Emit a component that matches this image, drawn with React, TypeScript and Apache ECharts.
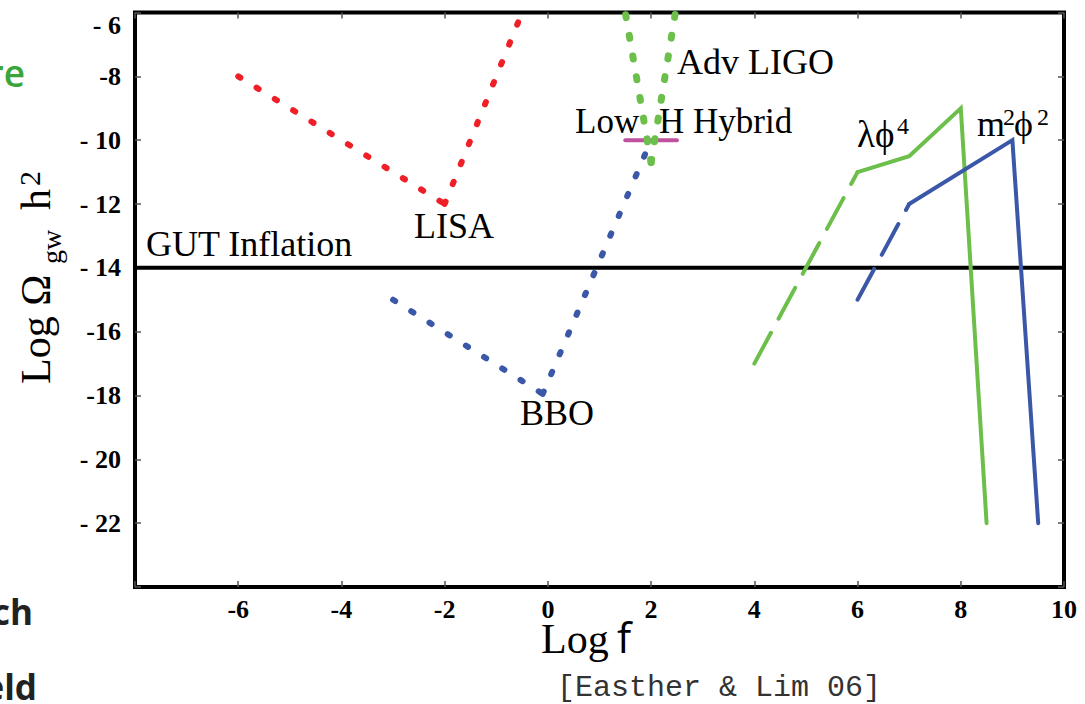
import React, { useEffect, useRef } from 'react';
import * as echarts from 'echarts';

// ---- Axis ranges and tick labels ----
const xRange = [-8, 10];
const yRange = [-24, -6];
const tickStep = 2;
const xTickLabels: Record<string, string> = {
  '-8': '', '-6': '-6', '-4': '-4', '-2': '-2', '0': '0', '2': '2', '4': '4', '6': '6', '8': '8', '10': '10',
};
const yTickLabels: Record<string, string> = {
  '-24': '', '-22': '- 22', '-20': '- 20', '-18': '-18', '-16': '-16', '-14': '- 14',
  '-12': '- 12', '-10': '- 10', '-8': '-8', '-6': '- 6',
};

// ---- Detector sensitivity curves (log f, log Omega_gw h^2) ----
const lisaLeft = [[-6, -8], [-2, -12]];
const lisaRight = [[-2, -12], [-0.5, -6]];
const bboLeft = [[-3, -15], [-0.1, -17.95]];
const bboRight = [[-0.1, -17.95], [2, -10]];
const ligoLeft = [[2, -10.7], [1.5, -6]];
const ligoRight = [[2, -10.7], [2.47, -6]];
const lowHHybrid = [[1.5, -10], [2.5, -10]];

// ---- GUT inflation level ----
const gutLevel = [[-8, -14], [10, -14]];

// ---- Inflationary model spectra ----
const lambdaPhi4Dashed = [[4, -17], [6, -11]];
const lambdaPhi4Solid = [[6, -11], [7, -10.5], [8, -9], [8.5, -22]];
const m2Phi2Dashed = [[6, -15], [7, -12]];
const m2Phi2Solid = [[7, -12], [9, -10], [9.5, -22]];

const RED = '#ee1f26';
const BLUE = '#3b57a7';
const GREEN = '#6cbf4a';
const MAGENTA = '#c0519f';

const SERIF = '"Liberation Serif", "Times New Roman", serif';
const SANS = '"Open Sans", "Liberation Sans", sans-serif';
const MONO = '"Liberation Mono", "DejaVu Sans Mono", monospace';

function line(name: string, data: number[][], color: string, width: number, type: any, z = 3) {
  return {
    name,
    type: 'line',
    data,
    symbol: 'none',
    z,
    lineStyle: { color, width, type, cap: 'round', join: 'miter' },
  };
}

// text helper: positions a text by its left/centre x and its baseline
function label(text: string, x: number, baseline: number, fontSize: number, opts: any = {}) {
  const family = opts.fontFamily || SERIF;
  const k = family === MONO ? 0.2665 : family === SANS ? 0.388 : 0.3375;
  return {
    type: 'text',
    x,
    y: baseline - k * fontSize,
    silent: true,
    z: 10,
    style: {
      text,
      fontSize,
      fontFamily: family,
      fontWeight: opts.fontWeight || 'normal',
      fill: opts.fill || '#000',
      align: opts.align || 'left',
      verticalAlign: 'middle',
    },
  };
}

export default function App() {
  const ref = useRef<HTMLDivElement>(null);

  useEffect(() => {
    if (!ref.current) return;
    const chart = echarts.init(ref.current, null, { renderer: 'svg' });

    const tickStyle = { inside: true, length: 6, lineStyle: { color: '#555', width: 1.5 } };
    const hiddenLine = { show: false, onZero: false };

    const option: any = {
      animation: false,
      backgroundColor: '#fff',
      grid: {
        left: 135,
        right: 21,
        top: 12.5,
        bottom: 117,
        show: true,
        borderColor: '#000',
        borderWidth: 4,
        backgroundColor: 'transparent',
      },
      xAxis: [
        {
          type: 'value', min: xRange[0], max: xRange[1], interval: tickStep, position: 'bottom',
          axisLine: hiddenLine, axisTick: tickStyle, splitLine: { show: false },
          axisLabel: {
            fontFamily: SERIF, fontWeight: 'bold', fontSize: 26, color: '#000', margin: 9,
            formatter: (v: number) => xTickLabels[String(v)] ?? String(v),
          },
        },
        {
          type: 'value', min: xRange[0], max: xRange[1], interval: tickStep, position: 'top',
          axisLine: hiddenLine, axisTick: tickStyle, splitLine: { show: false },
          axisLabel: { show: false },
        },
      ],
      yAxis: [
        {
          type: 'value', min: yRange[0], max: yRange[1], interval: tickStep, position: 'left',
          axisLine: hiddenLine, axisTick: tickStyle, splitLine: { show: false },
          axisLabel: {
            fontFamily: SERIF, fontWeight: 'bold', fontSize: 26, color: '#000', margin: 14,
            verticalAlignMaxLabel: 'top',
            formatter: (v: number) => yTickLabels[String(v)] ?? String(v),
          },
        },
        {
          type: 'value', min: yRange[0], max: yRange[1], interval: tickStep, position: 'right',
          axisLine: hiddenLine, axisTick: tickStyle, splitLine: { show: false },
          axisLabel: { show: false },
        },
      ],
      series: [
        line('GUT Inflation', gutLevel, '#000', 4, 'solid', 2),
        line('Low H Hybrid', lowHHybrid, MAGENTA, 4, 'solid', 3),
        line('LISA', lisaLeft, RED, 6, [2.5, 19], 4),
        line('LISA', lisaRight, RED, 6, [2.5, 19], 4),
        line('BBO', bboLeft, BLUE, 6, [2.5, 19], 4),
        line('BBO', bboRight, BLUE, 6, [2.5, 19], 4),
        line('Adv LIGO', ligoLeft, GREEN, 7, [3, 18], 5),
        line('Adv LIGO', ligoRight, GREEN, 7, [3, 18], 5),
        line('λϕ4', lambdaPhi4Dashed, GREEN, 4, [35, 16], 4),
        line('λϕ4', lambdaPhi4Solid, GREEN, 4, 'solid', 4),
        line('m2ϕ2', m2Phi2Dashed, BLUE, 4, [35, 16], 4),
        line('m2ϕ2', m2Phi2Solid, BLUE, 4, 'solid', 4),
      ],
      graphic: [
        // curve annotations
        label('GUT Inflation', 146, 256, 36),
        label('LISA', 454, 238, 36, { align: 'center' }),
        label('BBO', 557, 425, 36, { align: 'center' }),
        label('Adv LIGO', 677, 74, 36),
        label('Low', 575, 133, 35),
        label('H Hybrid', 659, 133, 35),
        label('λϕ', 857, 147, 37),
        label('4', 897, 134, 24),
        label('m', 977, 136, 36),
        label('2', 1003, 125, 24),
        label('ϕ', 1014, 136, 36),
        label('2', 1037, 125, 24),
        // x-axis title
        label('Log', 541, 653, 42),
        label('f', 617, 653, 42, { fontFamily: SANS }),
        // y-axis title, rotated to read upward
        {
          type: 'group',
          x: 50,
          y: 384,
          rotation: Math.PI / 2,
          children: [
            label('Log Ω', 0, 0, 42),
            label('gw', 120, 11, 28),
            label('h', 174, 0, 42),
            label('2', 198, -10, 30),
          ],
        },
        // citation
        label('[Easther & Lim 06]', 557, 696, 30, { fontFamily: MONO, fill: '#333' }),
        // neighbouring slide text
        label('re', 25, 87, 37, { fontFamily: SANS, fontWeight: 600, fill: '#3aa53a', align: 'right' }),
        label('ch', 33, 625, 35, { fontFamily: SANS, fontWeight: 'bold', fill: '#222', align: 'right' }),
        label('eld', 37, 700, 35, { fontFamily: SANS, fontWeight: 'bold', fill: '#222', align: 'right' }),
      ],
    };

    chart.setOption(option);
    return () => chart.dispose();
  }, []);

  return (
    <div
      ref={ref}
      style={{ position: 'fixed', left: 0, top: 0, width: 1085, height: 704, background: '#fff' }}
    />
  );
}
